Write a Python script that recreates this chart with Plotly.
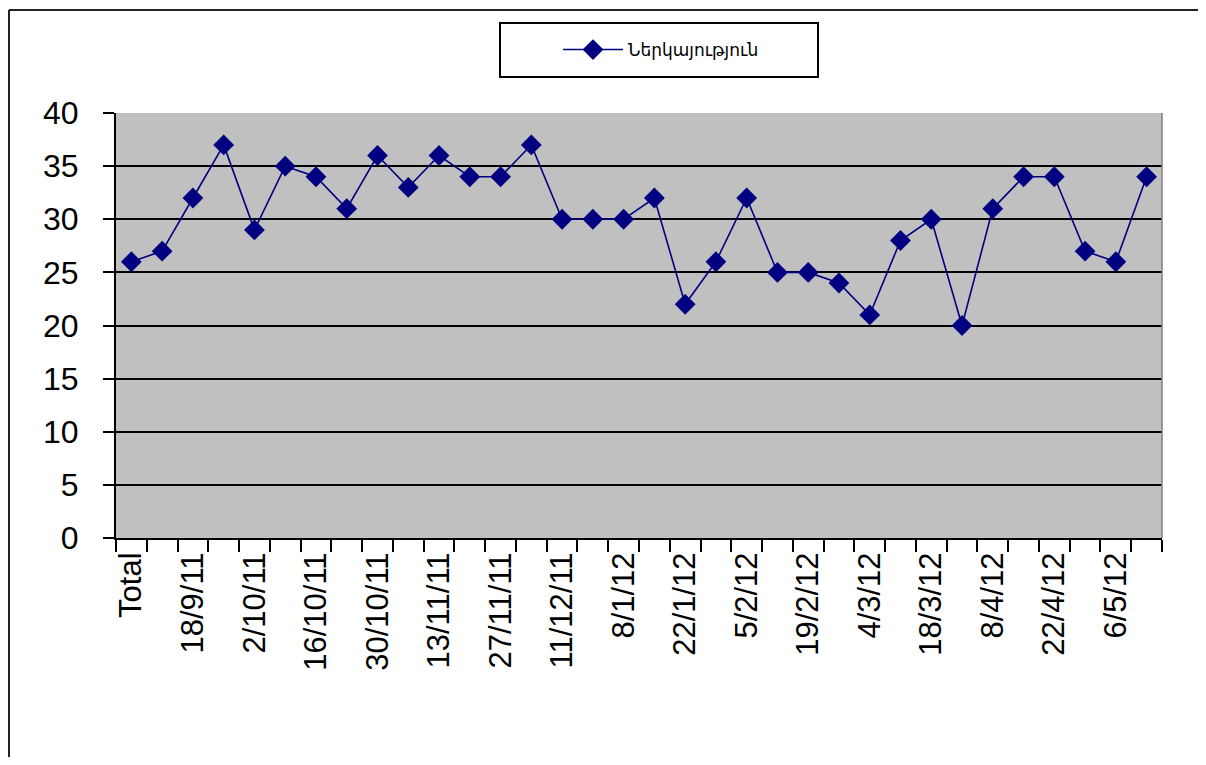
import plotly.graph_objects as go

categories = ["Total", "11/9/11", "18/9/11", "25/9/11", "2/10/11", "9/10/11", "16/10/11",
              "23/10/11", "30/10/11", "6/11/11", "13/11/11", "20/11/11", "27/11/11",
              "4/12/11", "11/12/11", "18/12/11", "8/1/12", "15/1/12", "22/1/12",
              "29/1/12", "5/2/12", "12/2/12", "19/2/12", "26/2/12", "4/3/12",
              "11/3/12", "18/3/12", "25/3/12", "8/4/12", "15/4/12", "22/4/12",
              "29/4/12", "6/5/12", "13/5/12"]
attendance = [26, 27, 32, 37, 29, 35, 34, 31, 36, 33, 36, 34, 34, 37, 30, 30, 30, 32,
              22, 26, 32, 25, 25, 24, 21, 28, 30, 20, 31, 34, 34, 27, 26, 34]
series_name = "Ներկայություն"
tick_text = [c if i % 2 == 0 else "" for i, c in enumerate(categories)]

# page body has an 8px margin; figure sized to fit inside the window
OFF = 8
W, H = 1206 - 2 * OFF, 765 - 2 * OFF
# plot area in screen pixels
L, R, T, B = 116, 1162, 113, 538


def px(x):
    return (x - L) / (R - L)


def py(y):
    return (B - y) / (B - T)


fig = go.Figure()
fig.add_trace(go.Scatter(
    x=categories, y=attendance, mode="lines+markers", name=series_name,
    line=dict(color="#000080", width=1.6),
    marker=dict(symbol="diamond", size=16, color="#000080"),
))

fig.update_layout(
    width=W, height=H,
    margin=dict(l=L - OFF, r=W - (R - OFF), t=T - OFF, b=H - (B - OFF), pad=0),
    paper_bgcolor="white", plot_bgcolor="#C0C0C0",
    showlegend=True,
    legend=dict(x=px(558), y=py(50), xanchor="left", yanchor="middle",
                bgcolor="rgba(0,0,0,0)", borderwidth=0,
                font=dict(family="DejaVu Sans", size=17, color="#000000"),
                itemwidth=60),
    font=dict(family="Liberation Sans, Arial", color="#000000"),
    shapes=[
        dict(type="rect", xref="paper", yref="paper",
             x0=px(500), x1=px(818), y0=py(77), y1=py(23),
             line=dict(color="#000000", width=2), fillcolor="rgba(0,0,0,0)"),
        dict(type="line", xref="paper", yref="paper",
             x0=px(9), x1=px(9), y0=py(10), y1=py(790),
             line=dict(color="#222222", width=2)),
        dict(type="line", xref="paper", yref="paper",
             x0=px(9), x1=px(1230), y0=py(10), y1=py(10),
             line=dict(color="#222222", width=2)),
        dict(type="line", xref="paper", yref="paper",
             x0=1, x1=1, y0=0, y1=1,
             line=dict(color="#808080", width=1.5)),
    ],
)

fig.update_xaxes(
    type="category", range=[-0.5, len(categories) - 0.5],
    tickmode="array", tickvals=categories, ticktext=tick_text,
    tickson="boundaries", ticks="outside", ticklen=12, tickwidth=2, tickcolor="#000000",
    tickangle=-90, tickfont=dict(family="Liberation Sans, Arial", size=31, color="#000000"),
    showline=True, linecolor="#000000", linewidth=2,
    showgrid=False, zeroline=False,
)
fig.update_yaxes(
    range=[0, 40], dtick=5, tick0=0,
    ticks="outside", ticklen=11, tickwidth=2, tickcolor="#000000",
    tickfont=dict(family="Liberation Sans, Arial", size=32, color="#000000"),
    ticklabelstandoff=18,
    showline=True, linecolor="#000000", linewidth=2,
    showgrid=True, gridcolor="#000000", gridwidth=1.5,
    zeroline=False,
)

fig.write_html("out.html")
